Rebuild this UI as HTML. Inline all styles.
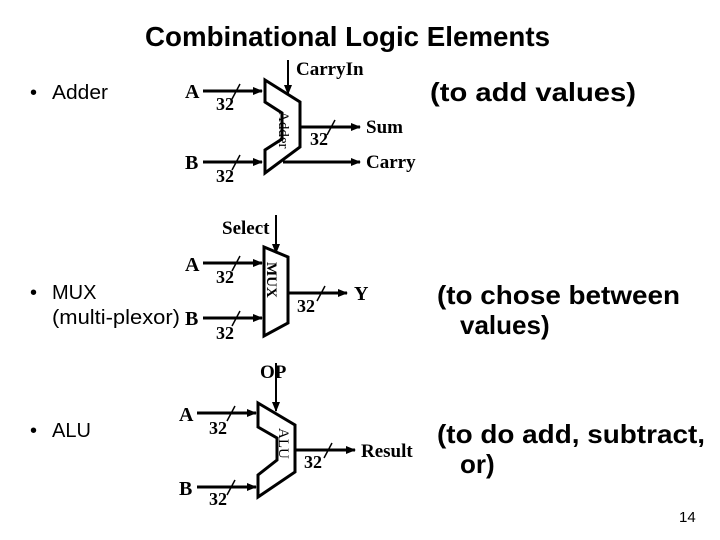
<!DOCTYPE html>
<html><head><style>body{margin:0;background:#fff}svg{display:block}</style></head><body>
<svg width="720" height="540" xmlns="http://www.w3.org/2000/svg">
<defs><marker id="ar" markerWidth="10" markerHeight="8" refX="9" refY="4" orient="auto" markerUnits="userSpaceOnUse"><path d="M0,0 L10,4 L0,8 z" fill="#000"/></marker></defs>
<g font-family="Liberation Sans, sans-serif" font-weight="bold" fill="#000">
<text x="145" y="46" font-size="28" textLength="405" lengthAdjust="spacingAndGlyphs">Combinational Logic Elements</text>
<text x="430" y="101" font-size="26" textLength="206" lengthAdjust="spacingAndGlyphs">(to add values)</text>
<text x="437" y="304" font-size="26" textLength="243" lengthAdjust="spacingAndGlyphs">(to chose between</text>
<text x="460" y="334" font-size="26">values)</text>
<text x="437" y="443" font-size="26" textLength="268" lengthAdjust="spacingAndGlyphs">(to do add, subtract,</text>
<text x="460" y="473" font-size="26">or)</text>
</g>
<g font-family="Liberation Sans, sans-serif" fill="#000" font-size="20">
<text x="30" y="99">•</text><text x="52" y="99" textLength="56" lengthAdjust="spacingAndGlyphs">Adder</text>
<text x="30" y="299">•</text><text x="52" y="299">MUX</text>
<text x="52" y="324" textLength="128" lengthAdjust="spacingAndGlyphs">(multi-plexor)</text>
<text x="30" y="437">•</text><text x="52" y="437">ALU</text>
<text x="679" y="522" font-size="15">14</text>
</g>
<g font-family="Liberation Serif, serif" font-weight="bold" fill="#000" font-size="20">
<text x="185" y="98">A</text><text x="185" y="169">B</text>
<text x="296" y="75" font-size="19">CarryIn</text>
<text x="366" y="133" font-size="19">Sum</text>
<text x="366" y="168" font-size="19">Carry</text>
<text x="222" y="234" font-size="19">Select</text>
<text x="185" y="271">A</text><text x="185" y="325">B</text>
<text x="354" y="300">Y</text>
<text x="260" y="378" font-size="19">OP</text>
<text x="179" y="421">A</text><text x="179" y="495">B</text>
<text x="361" y="457" font-size="19">Result</text>
<g font-size="18">
<text x="216" y="110">32</text><text x="216" y="182">32</text><text x="310" y="145">32</text>
<text x="216" y="283">32</text><text x="216" y="339">32</text><text x="297" y="312">32</text>
<text x="209" y="434">32</text><text x="209" y="505">32</text><text x="304" y="468">32</text>
</g>
<g font-size="15" font-weight="normal">
<text transform="translate(279,111) rotate(90)">Adder</text>
<text transform="translate(267,262) rotate(90)" font-weight="bold">MUX</text>
<text transform="translate(279,428) rotate(90)">ALU</text>
</g>
</g>
<g stroke="#000" stroke-width="3" fill="none">
<path d="M265,80 L300,102 L300,147 L265,173 L265,150 L282,139 L282,113 L265,102 Z"/>
<line x1="203" y1="91" x2="262" y2="91" marker-end="url(#ar)"/>
<line x1="203" y1="162" x2="262" y2="162" marker-end="url(#ar)"/>
<line x1="288" y1="60" x2="288" y2="94" stroke-width="2" marker-end="url(#ar)"/>
<line x1="300" y1="127" x2="360" y2="127" marker-end="url(#ar)"/>
<line x1="283" y1="162" x2="360" y2="162" marker-end="url(#ar)"/>
<path d="M264,247 L288,257 L288,323 L264,336 Z"/>
<line x1="203" y1="263" x2="262" y2="263" marker-end="url(#ar)"/>
<line x1="203" y1="318" x2="262" y2="318" marker-end="url(#ar)"/>
<line x1="276" y1="215" x2="276" y2="253" stroke-width="2" marker-end="url(#ar)"/>
<line x1="288" y1="293" x2="347" y2="293" marker-end="url(#ar)"/>
<path d="M258,403 L295,425 L295,472 L258,497 L258,475 L277,460 L277,438 L258,427 Z"/>
<line x1="197" y1="413" x2="256" y2="413" marker-end="url(#ar)"/>
<line x1="197" y1="487" x2="256" y2="487" marker-end="url(#ar)"/>
<line x1="276" y1="363" x2="276" y2="411" stroke-width="2" marker-end="url(#ar)"/>
<line x1="295" y1="450" x2="355" y2="450" marker-end="url(#ar)"/>
</g>
<g stroke="#000" stroke-width="1.5">
<line x1="232" y1="99" x2="240" y2="84"/><line x1="232" y1="170" x2="240" y2="155"/><line x1="327" y1="135" x2="335" y2="120"/>
<line x1="232" y1="271" x2="240" y2="256"/><line x1="232" y1="326" x2="240" y2="311"/><line x1="317" y1="301" x2="325" y2="286"/>
<line x1="227" y1="421" x2="235" y2="406"/><line x1="227" y1="495" x2="235" y2="480"/><line x1="324" y1="458" x2="332" y2="443"/>
</g>
</svg>
</body></html>
